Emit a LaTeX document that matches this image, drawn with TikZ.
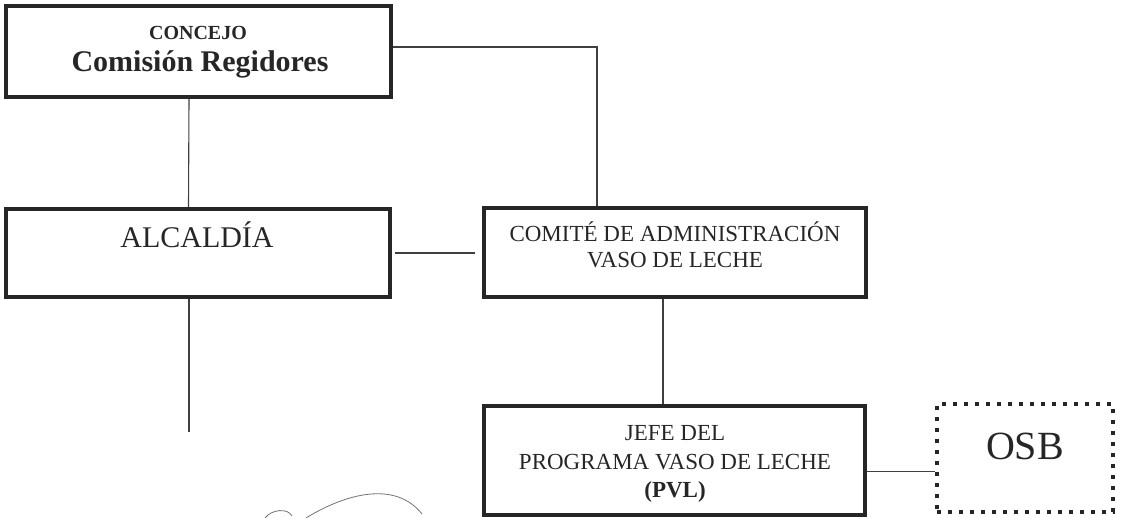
\documentclass[tikz,border=0pt]{standalone}
\usepackage{fontspec}
\setmainfont{Liberation Serif}
\usepackage{tikz}
\usetikzlibrary{calc}
\tikzset{every node/.style={font=\fontsize{23}{27}\selectfont, text=black!85},
  orgbox/.style={draw=black!85, line width=3.5pt, inner sep=0pt},
  osbbox/.style={draw=black!85, line width=4pt,
    dash pattern=on 4pt off 7pt, inner sep=0pt},
  link/.style={draw=black!75, line width=1.1pt},
  boxtext/.style={anchor=base, inner sep=0pt}}

\begin{document}
\begin{tikzpicture}[x=1pt,y=-1pt]
  \useasboundingbox (0,0) rectangle (1122,518);
  % boxes
  \node[orgbox, minimum width=385pt, minimum height=91pt] (concejo) at (198.5,51.5) {};
  \node[orgbox, minimum width=384pt, minimum height=88pt] (alcaldia) at (198,253) {};
  \node[orgbox, minimum width=382pt, minimum height=89pt] (comite) at (675,252.5) {};
  \node[orgbox, minimum width=381pt, minimum height=109pt] (jefe) at (674.5,460.5) {};
  \node[osbbox, minimum width=176pt, minimum height=108pt] (osb) at (1025,458) {};
  % texts
  \node[boxtext, font=\bfseries\fontsize{20}{24}\selectfont] (concejoA) at (198,39.5) {CONCEJO};
  \node[boxtext, font=\bfseries\fontsize{30}{36}\selectfont] (concejoB) at (200,72) {Comisión Regidores};
  \node[boxtext, font=\fontsize{30}{36}\selectfont] (alcaldiaT) at (197,248) {ALCALDÍA};
  \node[boxtext] (comiteA) at (675,242) {COMITÉ DE ADMINISTRACIÓN};
  \node[boxtext] (comiteB) at (675,268) {VASO DE LECHE};
  \node[boxtext] (jefeA) at (675,441) {JEFE DEL};
  \node[boxtext] (jefeB) at (675,469) {PROGRAMA VASO DE LECHE};
  \node[boxtext, font=\bfseries\fontsize{23}{27}\selectfont] (jefeC) at (675,497) {(PVL)};
  \node[boxtext, font=\fontsize{40}{46}\selectfont] (osbT) at (1025,460) {OSB};
  % connectors
  \coordinate (alcEnd) at (189,432);
  \draw[link] ([xshift=-9.5pt]concejo.south) -- ([xshift=-9.5pt]alcaldia.north);
  \draw[link] ([yshift=4.5pt]concejo.east) -| ([xshift=-78pt]comite.north);
  \draw[link, shorten <=3pt, shorten >=7pt] (alcaldia.east) -- (alcaldia.east -| comite.west);
  \draw[link] ([xshift=-12pt]comite.south) -- ([xshift=-11.5pt]jefe.north);
  \draw[link] ([yshift=-11pt]jefe.east) -- ([yshift=-11pt]jefe.east -| osb.west);
  \draw[link] ([xshift=-9pt]alcaldia.south) -- (alcEnd);
  % signature stroke
  \draw[black!55, line width=0.8pt] (265,518) .. controls (272,509) and (288,508) .. (292,516);
  \draw[black!55, line width=0.8pt] (306,518) .. controls (345,494) and (395,480) .. (422,514);
\end{tikzpicture}
\end{document}
